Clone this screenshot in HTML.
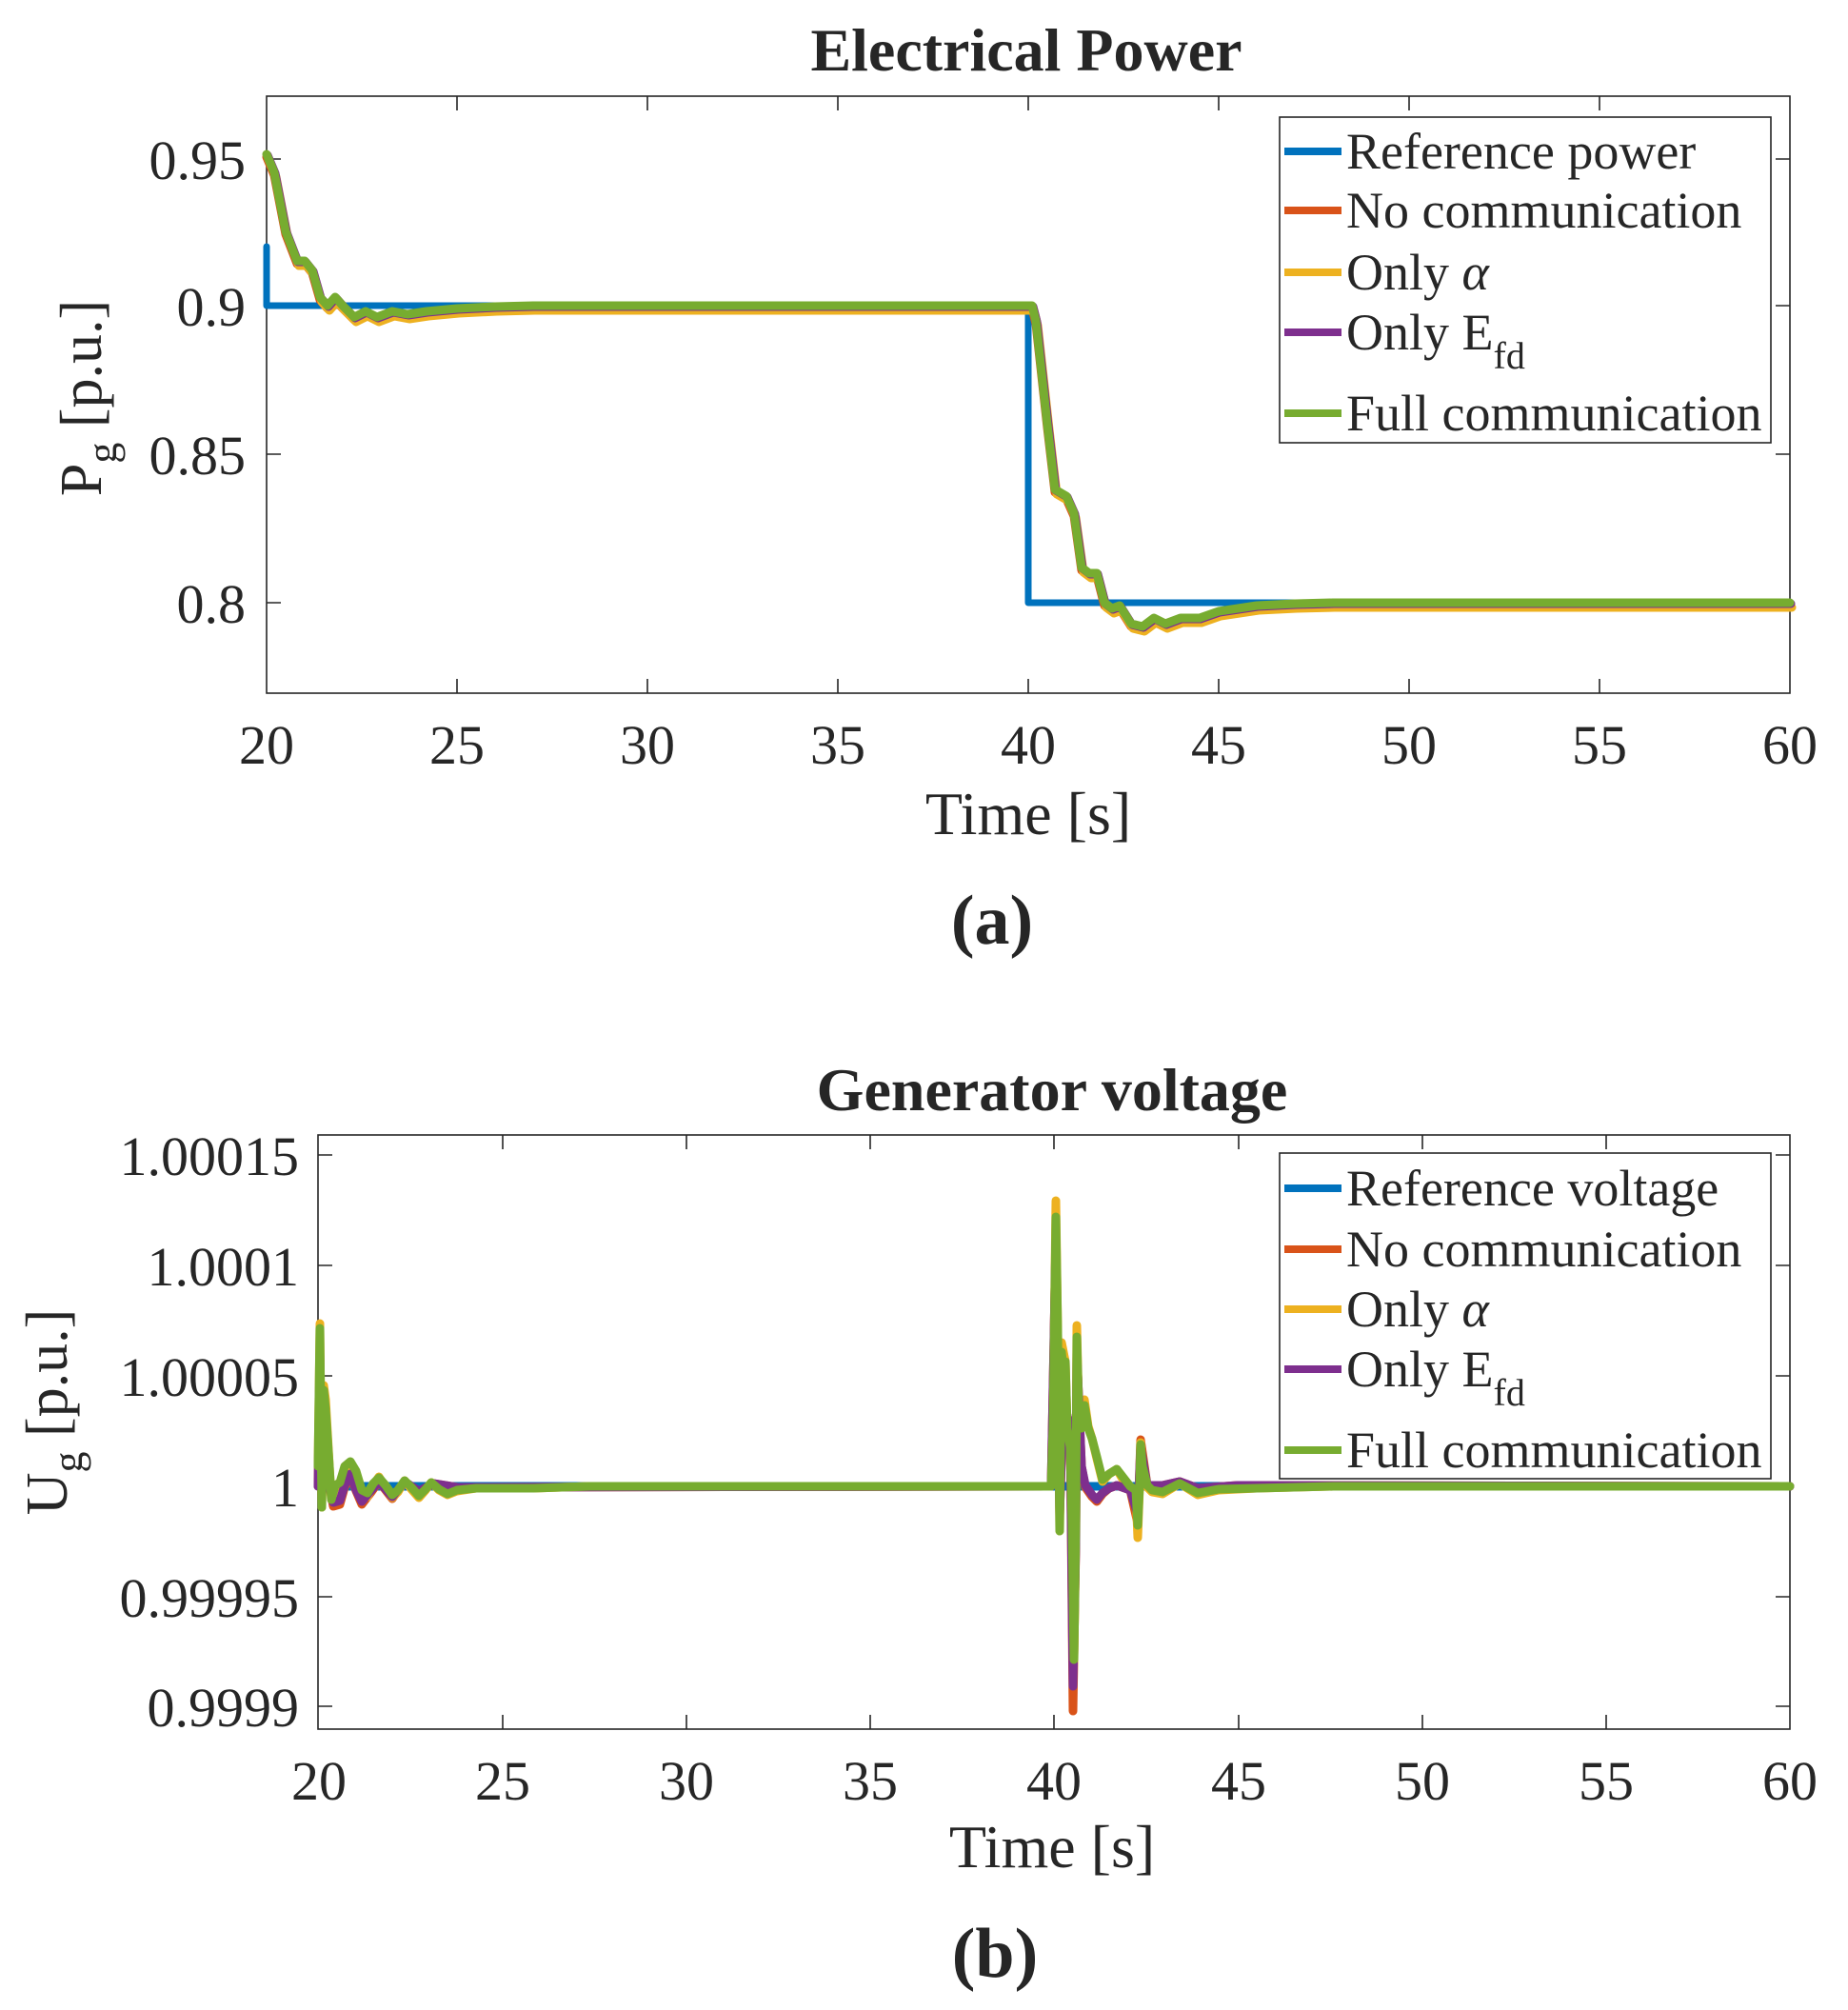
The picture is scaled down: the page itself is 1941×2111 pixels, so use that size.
<!DOCTYPE html>
<html><head><meta charset="utf-8"><style>
html,body{margin:0;padding:0;background:#fff;}
svg{display:block;}
text{font-family:"Liberation Serif",serif;fill:#262626;}
</style></head><body>
<svg width="1941" height="2111" viewBox="0 0 1941 2111" xmlns="http://www.w3.org/2000/svg">
<rect width="1941" height="2111" fill="#fff"/>
<!-- ===== TOP PLOT ===== -->
<text x="1078" y="74" font-size="64" font-weight="bold" text-anchor="middle" fill="#000">Electrical Power</text>
<g stroke="#262626" stroke-width="1.6" fill="none">
<rect x="280" y="101" width="1600" height="627"/>
<path d="M480,728v-15M680,728v-15M880,728v-15M1080,728v-15M1280,728v-15M1480,728v-15M1680,728v-15
M480,101v15M680,101v15M880,101v15M1080,101v15M1280,101v15M1480,101v15M1680,101v15
M280,167h15M280,321h15M280,477h15M280,633h15M1880,167h-15M1880,321h-15M1880,477h-15M1880,633h-15"/>
</g>
<g font-size="58" text-anchor="end">
<text x="258" y="188">0.95</text><text x="258" y="342">0.9</text><text x="258" y="498">0.85</text><text x="258" y="654">0.8</text>
</g>
<g font-size="58" text-anchor="middle">
<text x="280" y="802">20</text><text x="480" y="802">25</text><text x="680" y="802">30</text><text x="880" y="802">35</text><text x="1080" y="802">40</text><text x="1280" y="802">45</text><text x="1480" y="802">50</text><text x="1680" y="802">55</text><text x="1880" y="802">60</text>
</g>
<text x="1080" y="876" font-size="64" text-anchor="middle">Time [s]</text>
<text transform="translate(106,418) rotate(-90)" font-size="62" text-anchor="middle">P<tspan font-size="44" dy="16">g</tspan><tspan dy="-16"> [p.u.]</tspan></text>
<text x="1042" y="991" font-size="74" font-weight="bold" text-anchor="middle" fill="#000">(a)</text>
<g fill="none" stroke-linejoin="round" stroke-linecap="round" stroke-width="9">
<path stroke="#0072BD" stroke-width="7" d="M280,259V321H1080V633H1880"/>
<path stroke="#D95319" transform="translate(0,3)" d="M280,162 L288,181 L300,243 L312,274 L320,274 L328,284 L336,312 L344,321 L352,312 L360,321 L372,333 L384,327 L396,333 L412,327 L428,330 L448,327 L480,324 L520,322 L560,321 L1084,321 L1088,337 L1100,446 L1108,514 L1120,521 L1128,539 L1136,596 L1144,602 L1152,602 L1160,633 L1168,639 L1176,636 L1188,655 L1200,658 L1212,649 L1224,655 L1240,649 L1260,649 L1280,642 L1320,636 L1360,634 L1400,633 L1880,633"/>
<path stroke="#EDB120" transform="translate(2,5)" d="M280,162 L288,181 L300,243 L312,274 L320,274 L328,284 L336,312 L344,321 L352,312 L360,321 L372,333 L384,327 L396,333 L412,327 L428,330 L448,327 L480,324 L520,322 L560,321 L1084,321 L1088,337 L1100,446 L1108,514 L1120,521 L1128,539 L1136,596 L1144,602 L1152,602 L1160,633 L1168,639 L1176,636 L1188,655 L1200,658 L1212,649 L1224,655 L1240,649 L1260,649 L1280,642 L1320,636 L1360,634 L1400,633 L1880,633"/>
<path stroke="#7E2F8E" transform="translate(1,1)" d="M280,162 L288,181 L300,243 L312,274 L320,274 L328,284 L336,312 L344,321 L352,312 L360,321 L372,333 L384,327 L396,333 L412,327 L428,330 L448,327 L480,324 L520,322 L560,321 L1084,321 L1088,337 L1100,446 L1108,514 L1120,521 L1128,539 L1136,596 L1144,602 L1152,602 L1160,633 L1168,639 L1176,636 L1188,655 L1200,658 L1212,649 L1224,655 L1240,649 L1260,649 L1280,642 L1320,636 L1360,634 L1400,633 L1880,633"/>
<path stroke="#77AC30" d="M280,162 L288,181 L300,243 L312,274 L320,274 L328,284 L336,312 L344,321 L352,312 L360,321 L372,333 L384,327 L396,333 L412,327 L428,330 L448,327 L480,324 L520,322 L560,321 L1084,321 L1088,337 L1100,446 L1108,514 L1120,521 L1128,539 L1136,596 L1144,602 L1152,602 L1160,633 L1168,639 L1176,636 L1188,655 L1200,658 L1212,649 L1224,655 L1240,649 L1260,649 L1280,642 L1320,636 L1360,634 L1400,633 L1880,633"/>
</g>
<!-- legend top -->
<rect x="1344" y="123" width="516" height="342" fill="#fff" stroke="#262626" stroke-width="1.6"/>
<g stroke-width="8">
<line x1="1349" y1="159" x2="1409" y2="159" stroke="#0072BD"/>
<line x1="1349" y1="221" x2="1409" y2="221" stroke="#D95319"/>
<line x1="1349" y1="286" x2="1409" y2="286" stroke="#EDB120"/>
<line x1="1349" y1="349" x2="1409" y2="349" stroke="#7E2F8E"/>
<line x1="1349" y1="434" x2="1409" y2="434" stroke="#77AC30"/>
</g>
<g font-size="54" fill="#000">
<text x="1414" y="177">Reference power</text>
<text x="1414" y="239">No communication</text>
<text x="1414" y="304">Only <tspan font-style="italic">α</tspan></text>
<text x="1414" y="367">Only E<tspan font-size="40" dy="20">fd</tspan></text>
<text x="1414" y="452">Full communication</text>
</g>
<!-- ===== BOTTOM PLOT ===== -->
<text x="1105" y="1166" font-size="64" font-weight="bold" text-anchor="middle" fill="#000">Generator voltage</text>
<g stroke="#262626" stroke-width="1.6" fill="none">
<rect x="334" y="1192" width="1546" height="624"/>
<path d="M528,1816v-15M721,1816v-15M914,1816v-15M1107,1816v-15M1301,1816v-15M1494,1816v-15M1687,1816v-15
M528,1192v15M721,1192v15M914,1192v15M1107,1192v15M1301,1192v15M1494,1192v15M1687,1192v15
M334,1213h15M334,1329h15M334,1445h15M334,1561h15M334,1677h15M334,1792h15
M1880,1213h-15M1880,1329h-15M1880,1445h-15M1880,1561h-15M1880,1677h-15M1880,1792h-15"/>
</g>
<g font-size="58" text-anchor="end">
<text x="314" y="1234">1.00015</text><text x="314" y="1350">1.0001</text><text x="314" y="1466">1.00005</text><text x="314" y="1582">1</text><text x="314" y="1698">0.99995</text><text x="314" y="1813">0.9999</text>
</g>
<g font-size="58" text-anchor="middle">
<text x="335" y="1890">20</text><text x="528" y="1890">25</text><text x="721" y="1890">30</text><text x="914" y="1890">35</text><text x="1107" y="1890">40</text><text x="1301" y="1890">45</text><text x="1494" y="1890">50</text><text x="1687" y="1890">55</text><text x="1880" y="1890">60</text>
</g>
<text x="1105" y="1961" font-size="64" text-anchor="middle">Time [s]</text>
<text transform="translate(70,1483) rotate(-90)" font-size="62" text-anchor="middle">U<tspan font-size="44" dy="16">g</tspan><tspan dy="-16"> [p.u.]</tspan></text>
<text x="1045" y="2076" font-size="74" font-weight="bold" text-anchor="middle" fill="#000">(b)</text>
<g fill="none" stroke-linejoin="round" stroke-linecap="round" stroke-width="9">
<path stroke="#0072BD" d="M334,1561H1880"/>
<path stroke="#D95319" d="M334,1561 L336,1420 L338,1572 L342,1500 L346,1560 L350,1582 L357,1580 L362,1562 L368,1550 L374,1566 L380,1580 L390,1567 L398,1556 L412,1574 L425,1556 L440,1568 L455,1558 L480,1562 L1104,1561 L1109,1300 L1113,1592 L1117,1470 L1124,1500 L1127,1797 L1130,1620 L1131,1420 L1136,1540 L1140,1562 L1147,1572 L1152,1577 L1158,1569 L1165,1563 L1173,1560 L1187,1565 L1195,1600 L1198,1512 L1205,1560 L1221,1560 L1239,1556 L1258,1563 L1300,1560 L1880,1561"/>
<path stroke="#EDB120" d="M334,1540 L336,1390 L338,1583 L340,1455 L342,1470 L344,1505 L346,1540 L348,1575 L352,1562 L357,1560 L362,1542 L368,1536 L374,1548 L380,1568 L386,1572 L392,1560 L398,1551 L405,1562 L412,1573 L418,1567 L425,1555 L432,1564 L440,1573 L447,1565 L453,1557 L461,1565 L470,1570 L480,1566 L500,1563 L560,1563 L620,1561 L1104,1561 L1106,1500 L1109,1261 L1111,1400 L1113,1608 L1115,1410 L1117,1420 L1119,1430 L1121,1500 L1124,1520 L1126,1600 L1128,1745 L1130,1600 L1131,1392 L1133,1480 L1136,1500 L1139,1470 L1143,1498 L1147,1511 L1152,1532 L1158,1556 L1165,1548 L1173,1543 L1180,1555 L1187,1564 L1193,1568 L1195,1615 L1197,1560 L1198,1515 L1200,1540 L1205,1562 L1210,1567 L1221,1569 L1239,1558 L1258,1570 L1280,1565 L1320,1563 L1400,1561 L1880,1561"/>
<path stroke="#7E2F8E" d="M334,1561 L336,1420 L338,1570 L342,1500 L346,1560 L350,1578 L357,1576 L362,1560 L368,1548 L374,1565 L380,1577 L390,1565 L398,1556 L412,1572 L425,1556 L440,1566 L455,1558 L480,1562 L1104,1561 L1109,1300 L1113,1590 L1117,1470 L1124,1500 L1127,1771 L1130,1620 L1131,1420 L1136,1540 L1140,1560 L1147,1570 L1152,1575 L1158,1568 L1165,1563 L1173,1560 L1187,1565 L1195,1590 L1198,1520 L1205,1560 L1221,1560 L1239,1556 L1258,1563 L1300,1560 L1880,1561"/>
<path stroke="#77AC30" d="M334,1540 L336,1395 L338,1583 L340,1460 L342,1480 L344,1510 L346,1540 L348,1575 L352,1560 L357,1557 L362,1540 L368,1535 L374,1545 L380,1565 L386,1568 L392,1558 L398,1552 L405,1560 L412,1570 L418,1565 L425,1555 L432,1562 L440,1571 L447,1564 L453,1557 L461,1564 L470,1569 L480,1565 L500,1563 L560,1563 L620,1561 L1104,1561 L1106,1500 L1109,1278 L1111,1400 L1113,1608 L1115,1420 L1117,1440 L1119,1430 L1121,1500 L1124,1520 L1126,1600 L1128,1743 L1130,1600 L1131,1404 L1133,1480 L1136,1500 L1139,1476 L1143,1500 L1147,1511 L1152,1530 L1158,1554 L1165,1548 L1173,1543 L1180,1552 L1187,1561 L1193,1565 L1195,1602 L1197,1560 L1198,1517 L1200,1540 L1205,1560 L1210,1565 L1221,1567 L1239,1558 L1258,1568 L1280,1564 L1320,1563 L1400,1561 L1880,1561"/>
</g>
<!-- legend bottom -->
<rect x="1344" y="1211" width="516" height="342" fill="#fff" stroke="#262626" stroke-width="1.6"/>
<g stroke-width="8">
<line x1="1349" y1="1248" x2="1409" y2="1248" stroke="#0072BD"/>
<line x1="1349" y1="1312" x2="1409" y2="1312" stroke="#D95319"/>
<line x1="1349" y1="1375" x2="1409" y2="1375" stroke="#EDB120"/>
<line x1="1349" y1="1438" x2="1409" y2="1438" stroke="#7E2F8E"/>
<line x1="1349" y1="1523" x2="1409" y2="1523" stroke="#77AC30"/>
</g>
<g font-size="54" fill="#000">
<text x="1414" y="1266">Reference voltage</text>
<text x="1414" y="1330">No communication</text>
<text x="1414" y="1393">Only <tspan font-style="italic">α</tspan></text>
<text x="1414" y="1456">Only E<tspan font-size="40" dy="20">fd</tspan></text>
<text x="1414" y="1541">Full communication</text>
</g>
</svg>
</body></html>
